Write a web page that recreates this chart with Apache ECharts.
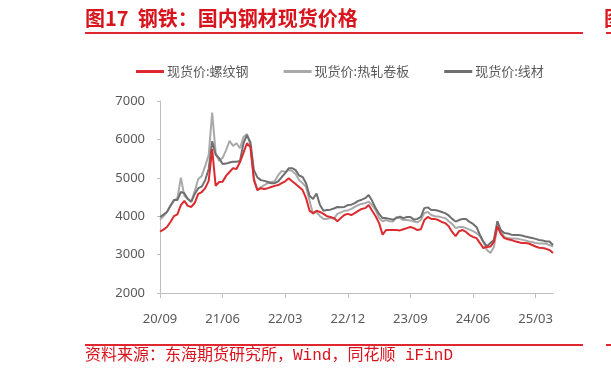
<!DOCTYPE html>
<html><head><meta charset="utf-8">
<script src="https://cdn.jsdelivr.net/npm/echarts@6/dist/echarts.min.js"></script>
<style>html,body{margin:0;padding:0;background:#fff}#c{width:611px;height:379px}</style>
</head><body><div id="c"></div>
<script>
const categories = [
'2020-09-01','2020-09-16','2020-10-01','2020-10-16','2020-11-01','2020-11-16','2020-12-01','2020-12-16',
'2021-01-01','2021-01-16','2021-02-01','2021-02-16','2021-03-01','2021-03-16','2021-04-01','2021-04-16','2021-05-01','2021-05-16','2021-06-01','2021-06-16','2021-07-01','2021-07-16','2021-08-01','2021-08-16','2021-09-01','2021-09-16','2021-10-01','2021-10-16','2021-11-01','2021-11-16','2021-12-01','2021-12-16',
'2022-01-01','2022-01-16','2022-02-01','2022-02-16','2022-03-01','2022-03-16','2022-04-01','2022-04-16','2022-05-01','2022-05-16','2022-06-01','2022-06-16','2022-07-01','2022-07-16','2022-08-01','2022-08-16','2022-09-01','2022-09-16','2022-10-01','2022-10-16','2022-11-01','2022-11-16','2022-12-01','2022-12-16',
'2023-01-01','2023-01-16','2023-02-01','2023-02-16','2023-03-01','2023-03-16','2023-04-01','2023-04-16','2023-05-01','2023-05-16','2023-06-01','2023-06-16','2023-07-01','2023-07-16','2023-08-01','2023-08-16','2023-09-01','2023-09-16','2023-10-01','2023-10-16','2023-11-01','2023-11-16','2023-12-01','2023-12-16',
'2024-01-01','2024-01-16','2024-02-01','2024-02-16','2024-03-01','2024-03-16','2024-04-01','2024-04-16','2024-05-01','2024-05-16','2024-06-01','2024-06-16','2024-07-01','2024-07-16','2024-08-01','2024-08-16','2024-09-01','2024-09-16','2024-10-01','2024-10-16','2024-11-01','2024-11-16','2024-12-01','2024-12-16',
'2025-01-01','2025-01-16','2025-02-01','2025-02-16','2025-03-01','2025-03-16','2025-04-01','2025-04-16','2025-05-01','2025-05-16'
];
const seriesNames = ['现货价:螺纹钢','现货价:热轧卷板','现货价:线材'];
const rebar = [
3600,3650,3720,3850,4000,4050,4290,4400,4270,4240,4350,4580,4630,4730,4920,5750,4790,4890,4900,5050,
5150,5250,5230,5410,5650,5900,5800,4940,4680,4730,4710,4730,4760,4790,4810,4860,4910,4990,4910,4840,
4760,4680,4470,4140,4080,4140,4110,4060,4000,3980,3950,3870,3950,4030,4060,4030,4080,4140,4190,4210,
4290,4140,4000,3820,3520,3640,3640,3640,3640,3630,3660,3690,3720,3690,3640,3660,3900,3980,3930,3930,
3900,3850,3820,3740,3590,3480,3610,3640,3590,3510,3460,3430,3300,3170,3200,3210,3330,3740,3540,3430,
3400,3380,3350,3330,3300,3300,3290,3250,3210,3180,3170,3150,3120,3040
];
const hotRolled = [
3910,4000,4110,4270,4400,4470,5000,4530,4450,4380,4660,4970,5050,5310,5590,6700,5650,5440,5520,5720,
5960,5830,5900,5770,6060,6140,5850,5000,4680,4760,4810,4860,4890,4910,5070,5180,5150,5200,5180,5100,
4940,4860,4760,4400,4060,4110,4000,3930,3930,3950,3930,4060,4100,4140,4150,4190,4240,4290,4320,4340,
4380,4290,4160,3950,3870,3900,3870,3860,3980,3950,3900,3900,3890,3860,3840,3900,4080,4110,4030,4000,
3990,3970,3950,3870,3800,3690,3720,3720,3690,3650,3610,3560,3480,3330,3120,3040,3200,3720,3610,3460,
3430,3420,3420,3410,3390,3370,3340,3330,3300,3290,3290,3280,3250,3210
];
const wireRod = [
3980,4040,4110,4270,4420,4420,4630,4600,4450,4380,4580,4730,4770,4940,5230,5950,5600,5510,5360,5370,
5400,5420,5420,5440,5900,6110,5930,5200,5010,4940,4920,4890,4860,4860,4910,5020,5120,5250,5250,5200,
5060,5020,4860,4530,4450,4590,4290,4140,4160,4170,4200,4240,4230,4240,4290,4300,4340,4400,4430,4470,
4550,4400,4210,4060,3950,3950,3930,3910,3950,3990,3950,3980,3980,3910,3930,3980,4210,4230,4160,4160,
4140,4110,4080,4020,3930,3860,3900,3930,3930,3850,3800,3720,3510,3330,3220,3300,3380,3870,3640,3560,
3550,3520,3510,3510,3500,3470,3450,3430,3410,3380,3370,3340,3340,3250
];
const yMin = 2000, yMax = 7000, yStep = 1000;
const colors = ['#dc2a2f','#a9a9a9','#6f6f6f'];

const chart = echarts.init(document.getElementById('c'), null, {renderer:'canvas'});
const red = '#d8141d';
chart.setOption({
  animation: false,
  graphic: [
    {type:'text', left:85, top:8, style:{text:'图17  钢铁：国内钢材现货价格', fill:red, font:'bold 20px "Noto Sans CJK SC"'}},
    {type:'rect', shape:{x:85,y:32,width:498,height:2}, style:{fill:'#e0262e'}},
    {type:'text', left:604, top:8, style:{text:'图', fill:red, font:'bold 20px "Noto Sans CJK SC"'}},
    {type:'rect', shape:{x:606,y:32,width:5,height:2}, style:{fill:'#e0262e'}},
    {type:'rect', shape:{x:85,y:344,width:498,height:2}, style:{fill:'#e0262e'}},
    {type:'rect', shape:{x:606,y:344,width:5,height:2}, style:{fill:'#e0262e'}},
    {type:'text', left:85, top:348, style:{text:'资料来源：东海期货研究所，Wind，同花顺 iFinD', fill:red, font:'16px "Liberation Mono", "Noto Sans CJK SC"'}}
  ],
  legend: {
    left: 136, top: 65, padding: 0, itemGap: 35, itemWidth: 28, itemHeight: 3, icon: 'rect',
    textStyle: {color:'#595959', fontSize:13, fontFamily:'"Noto Sans CJK SC"', padding:[0,0,0,-2]},
    data: seriesNames
  },
  grid: {left:160, right:58, top:101, bottom:86},
  xAxis: {
    type:'category', data:categories, boundaryGap:false,
    axisLine:{lineStyle:{color:'#bfbfbf', width:1}},
    axisTick:{interval:17, length:5, lineStyle:{color:'#bfbfbf'}},
    axisLabel:{interval:17, color:'#595959', fontSize:13, margin:20, fontFamily:'"Noto Sans"',
      formatter: v => v.slice(2,4)+'/'+v.slice(5,7)},
    splitLine:{show:false}
  },
  yAxis: {
    type:'value', min:yMin, max:yMax, interval:yStep,
    axisLine:{show:true, lineStyle:{color:'#bfbfbf', width:1}},
    axisTick:{show:true, length:3, lineStyle:{color:'#bfbfbf'}},
    axisLabel:{color:'#595959', fontSize:13, margin:15, fontFamily:'"Noto Sans"', formatter: v => String(v)},
    splitLine:{show:false}
  },
  series: [
    {name:seriesNames[1], type:'line', data:hotRolled, symbol:'none', lineStyle:{width:2, color:colors[1]}, itemStyle:{color:colors[1]}, z:2},
    {name:seriesNames[2], type:'line', data:wireRod, symbol:'none', lineStyle:{width:2, color:colors[2]}, itemStyle:{color:colors[2]}, z:3},
    {name:seriesNames[0], type:'line', data:rebar, symbol:'none', lineStyle:{width:2, color:colors[0]}, itemStyle:{color:colors[0]}, z:4}
  ]
});
</script></body></html>
